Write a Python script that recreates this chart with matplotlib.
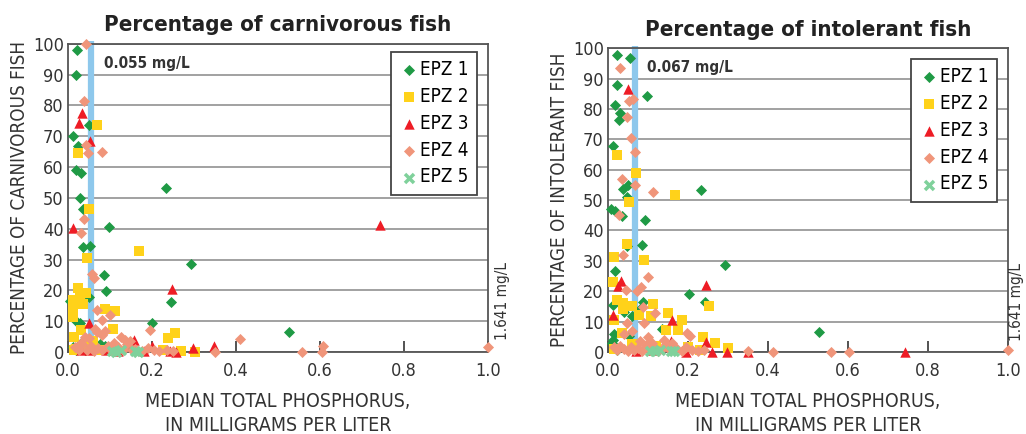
import numpy as np
import matplotlib.pyplot as plt

plt.rcParams['font.family'] = ['DejaVu Sans']
plt.rcParams['font.stretch'] = 'condensed'

# ---- carnivorous fish (left panel) ----
car_epz1_x = [0.021, 0.018, 0.012, 0.024, 0.018, 0.032, 0.028, 0.036, 0.035, 0.052, 0.050, 0.234,
              0.097, 0.293, 0.086, 0.091, 0.245, 0.201, 0.527, 0.050, 0.020, 0.004, 0.028, 0.012,
              0.040, 0.075, 0.060, 0.030, 0.088, 0.143, 0.020, 0.100]
car_epz1_y = [97.9, 90, 70, 66.8, 59, 58, 50, 46.5, 34, 34.3, 73.6, 53.2,
              40.4, 28.6, 25, 19.9, 16.2, 9.5, 6.6, 18, 10, 16.5, 9.4, 1.5,
              0.5, 2.5, 1.0, 3.0, 2.0, 2.0, 0.5, 0.8]
car_epz2_x = [0.069, 0.023, 0.050, 0.046, 0.169, 0.023, 0.042, 0.012, 0.012, 0.012, 0.028, 0.088,
              0.112, 0.106, 0.239, 0.254, 0.014, 0.227, 0.270, 0.302, 0.015, 0.045, 0.080, 0.012,
              0.035, 0.060, 0.030, 0.018]
car_epz2_y = [73.6, 64.6, 46.5, 30.6, 32.9, 20.8, 19.2, 17, 15, 13, 17.5, 14,
              13.4, 7.6, 4.5, 6, 5, 0.5, 0.2, 0, 0.8, 2, 0.5, 11.5,
              15.5, 3.5, 7, 1]
car_epz3_x = [0.034, 0.025, 0.052, 0.013, 0.743, 0.247, 0.050, 0.157, 0.298, 0.347, 0.199, 0.258,
              0.242, 0.052, 0.030, 0.120, 0.180, 0.090]
car_epz3_y = [77.6, 74.4, 68.4, 40.2, 41.3, 20.5, 9.4, 4, 1.3, 1.8, 1.8, 0,
              0.2, 0.8, 0.5, 0.3, 0.2, 0.5]
car_epz4_x = [0.042, 0.039, 0.042, 0.048, 0.082, 0.039, 0.032, 0.058, 0.061, 0.068, 0.099, 0.082,
              0.195, 0.409, 0.608, 1.641, 0.556, 0.604, 0.351, 0.127, 0.087, 0.040,
              0.017, 0.025, 0.033, 0.045, 0.055, 0.063, 0.072, 0.080, 0.095, 0.105, 0.118, 0.130,
              0.140, 0.152, 0.160, 0.175, 0.190, 0.205, 0.217, 0.235, 0.250,
              0.050, 0.080, 0.135, 0.147, 0.030, 0.065, 0.110, 0.070]
car_epz4_y = [100, 81.4, 67.1, 64.6, 64.8, 43.3, 38.6, 25.4, 24, 13.5, 12.1, 10.5,
              7, 4.2, 2, 1.5, 0, 0, 0, 5, 6.7, 5,
              1.5, 0.5, 2.5, 0.8, 1.8, 0.3, 1.2, 0.6, 2.0, 0.4, 1.5, 0.8,
              2.5, 0.5, 1.0, 0.3, 1.2, 0.5, 0.2, 0.8, 0.3,
              4.5, 5.5, 4.0, 3.5, 3.0, 7.5, 3.0, 6.5]
car_epz5_x = [0.105, 0.115, 0.125, 0.160, 0.167]
car_epz5_y = [0.3, 0, 0.5, 0.2, 0]

# ---- intolerant fish (right panel) ----
int_epz1_x = [0.022, 0.054, 0.023, 0.097, 0.018, 0.030, 0.027, 0.012, 0.038, 0.051, 0.047, 0.008,
              0.017, 0.035, 0.093, 0.233, 0.047, 0.085, 0.293, 0.018, 0.203, 0.243, 0.088, 0.528,
              0.013, 0.015, 0.053, 0.022, 0.040, 0.080, 0.060, 0.010, 0.134, 0.013]
int_epz1_y = [97.8, 96.9, 87.8, 84.1, 81.4, 78.6, 76.4, 67.7, 53.7, 55, 51, 47.1,
              46.5, 44.6, 43.3, 53.4, 34.8, 35.1, 28.7, 26.5, 19.2, 16.3, 16.3, 6.6,
              15.6, 5.9, 5.2, 0.5, 13, 14, 12, 3, 7.7, 3.9]
int_epz2_x = [0.023, 0.069, 0.053, 0.168, 0.047, 0.015, 0.089, 0.013, 0.022, 0.038, 0.059, 0.112,
              0.253, 0.151, 0.184, 0.107, 0.078, 0.016, 0.034, 0.144, 0.174, 0.237, 0.268, 0.300,
              0.230, 0.038, 0.015, 0.060, 0.120, 0.200]
int_epz2_y = [64.9, 58.9, 49.3, 51.8, 35.5, 31.3, 30.3, 22.9, 17.2, 16.1, 15, 15.8,
              15, 12.8, 10.4, 11.7, 12.3, 10.4, 6.3, 7.3, 7.3, 4.9, 3, 1.3,
              0.8, 14, 1.0, 2.5, 2.0, 1.5]
int_epz3_x = [0.050, 0.033, 0.024, 0.013, 0.245, 0.159, 0.245, 0.157, 0.297, 0.349, 0.743, 0.194,
              0.259, 0.110, 0.070]
int_epz3_y = [86.5, 23.2, 21.6, 12.3, 22.1, 10.4, 3.2, 3.5, 0, 0, 0, 0,
              0, 0.5, 0.3]
int_epz4_x = [0.030, 0.063, 0.053, 0.048, 0.058, 0.068, 0.035, 0.068, 0.113, 0.028, 0.038, 0.099,
              0.045, 0.082, 0.073, 0.088, 0.118, 0.048, 0.090, 0.197, 0.205, 0.413, 0.557, 0.603,
              1.641, 0.351,
              0.015, 0.022, 0.030, 0.040, 0.050, 0.058, 0.065, 0.075, 0.085, 0.095, 0.105, 0.115,
              0.125, 0.135, 0.145, 0.155, 0.170, 0.185, 0.195, 0.210, 0.225, 0.240,
              0.060, 0.100, 0.140, 0.080, 0.040, 0.110, 0.160]
int_epz4_y = [93.4, 83.2, 82.7, 77.3, 70.5, 65.9, 57, 54.8, 52.5, 45.2, 31.8, 24.7,
              20.5, 21.4, 20, 14.8, 12.8, 9.5, 9.5, 6.3, 5.2, 0, 0, 0,
              0.8, 0.2,
              1.5, 0.5, 2.0, 1.0, 0.3, 1.8, 0.6, 1.2, 0.4, 2.2, 0.8, 1.5,
              0.3, 1.0, 2.5, 0.6, 1.2, 0.4, 1.8, 0.5, 0.2, 0.6,
              7, 5, 4, 3.5, 6, 3, 2.8]
int_epz5_x = [0.105, 0.118, 0.130, 0.158, 0.165]
int_epz5_y = [0.3, 0.2, 0.5, 0.3, 0.2]

labels = ['EPZ 1', 'EPZ 2', 'EPZ 3', 'EPZ 4', 'EPZ 5']
colors = ['#1f9a45', '#ffd21a', '#ee1c25', '#f0957a', '#7fd19b']
markers = ['D', 's', '^', 'D', 'x']
sizes = [32, 44, 56, 32, 42]

panels = [
    dict(title='Percentage of carnivorous fish', ylabel='PERCENTAGE OF CARNIVOROUS FISH',
         thresh=0.055, tlabel='0.055 mg/L',
         data=[(car_epz1_x, car_epz1_y), (car_epz2_x, car_epz2_y), (car_epz3_x, car_epz3_y),
               (car_epz4_x, car_epz4_y), (car_epz5_x, car_epz5_y)],
         rect=[0.0663, 0.189, 0.4093, 0.71], leg_anchor=(0.974, 0.975), note_x=1.035),
    dict(title='Percentage of intolerant fish', ylabel='PERCENTAGE OF INTOLERANT FISH',
         thresh=0.067, tlabel='0.067 mg/L',
         data=[(int_epz1_x, int_epz1_y), (int_epz2_x, int_epz2_y), (int_epz3_x, int_epz3_y),
               (int_epz4_x, int_epz4_y), (int_epz5_x, int_epz5_y)],
         rect=[0.5926, 0.189, 0.3899, 0.70], leg_anchor=(0.972, 0.966), note_x=1.022),
]

fig = plt.figure(figsize=(10.26, 4.34), dpi=100)

for p in panels:
    ax = fig.add_axes(p['rect'])
    ax.set_xlim(0, 1.0)
    ax.set_ylim(0, 100)
    ax.set_yticks(range(0, 101, 10))
    ax.set_xticks([0, 0.2, 0.4, 0.6, 0.8, 1.0])
    ax.set_xticklabels(['0.0', '0.2', '0.4', '0.6', '0.8', '1.0'])
    ax.grid(axis='y', color='#9a9a9a', linewidth=1.3)
    ax.set_axisbelow(True)
    for s in ax.spines.values():
        s.set_color('#555555')
        s.set_linewidth(1.3)
    ax.tick_params(axis='y', length=0, labelsize=13, labelcolor='#333333', pad=3)
    ax.tick_params(axis='x', direction='in', length=8, width=1.3, color='#444444',
                   labelsize=13, labelcolor='#333333', pad=7)

    ax.plot([p['thresh'], p['thresh']], [0, 100.8], color='#8ec8ec', linewidth=4.5,
            solid_capstyle='butt', zorder=2, clip_on=False)
    ax.text(p['thresh'] + 0.03, 93.5, p['tlabel'], fontsize=11, fontweight='bold',
            color='#333333', va='center', ha='left')

    for (xs, ys), lab, c, m, sz in zip(p['data'], labels, colors, markers, sizes):
        xs = np.minimum(np.array(xs), 1.0)
        lw = 2.5 if m == 'x' else 0
        ax.scatter(xs, ys, s=sz, marker=m, color=c, linewidths=lw, label=lab,
                   zorder=3, clip_on=False)

    ax.text(p['note_x'], 0.165, '1.641 mg/L', transform=ax.transAxes, rotation=90,
            fontsize=11, color='#333333', ha='center', va='center')

    ax.set_title(p['title'], fontsize=16, fontweight='bold', color='#222222', pad=9)
    ax.set_ylabel(p['ylabel'], fontsize=13.5, color='#333333', labelpad=3)
    ax.set_xlabel('MEDIAN TOTAL PHOSPHORUS,\nIN MILLIGRAMS PER LITER', fontsize=14,
                  color='#333333', labelpad=9, linespacing=1.35)

    leg = ax.legend(loc='upper right', bbox_to_anchor=p['leg_anchor'], fontsize=13.5,
                    frameon=True, fancybox=False, handletextpad=0.1, handlelength=1.0,
                    borderpad=0.45, labelspacing=0.42, borderaxespad=0, markerscale=1.0)
    leg.get_frame().set_edgecolor('#444444')
    leg.get_frame().set_linewidth(1.3)
    leg.get_frame().set_alpha(1)

fig.savefig('out.png', dpi=100)
